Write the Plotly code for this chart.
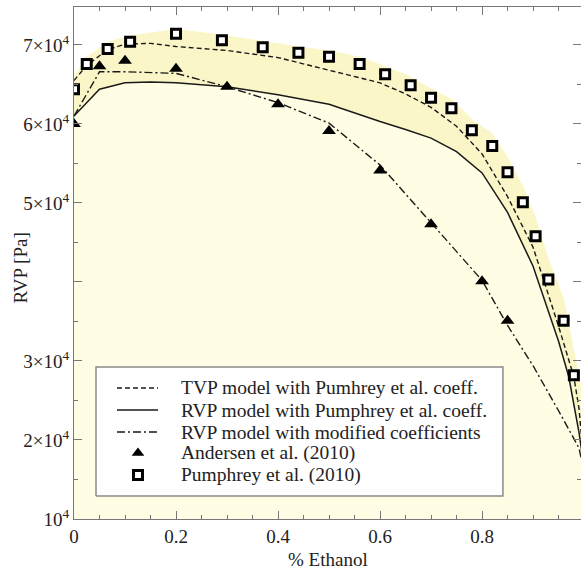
import plotly.graph_objects as go

# --- data ---
pumphrey_x = [0, 0.025, 0.066, 0.11, 0.2, 0.29, 0.37, 0.44, 0.5, 0.56, 0.61, 0.66,
              0.70, 0.74, 0.78, 0.82, 0.85, 0.88, 0.905, 0.93, 0.96, 0.98]
pumphrey_y = [6.44e4, 6.76e4, 6.95e4, 7.04e4, 7.14e4, 7.06e4, 6.97e4, 6.90e4, 6.85e4,
              6.76e4, 6.63e4, 6.49e4, 6.33e4, 6.20e4, 5.92e4, 5.72e4, 5.39e4, 5.01e4,
              4.58e4, 4.03e4, 3.51e4, 2.82e4]

andersen_x = [0, 0.05, 0.1, 0.2, 0.3, 0.4, 0.5, 0.6, 0.7, 0.8, 0.85]
andersen_y = [6.0e4, 6.73e4, 6.80e4, 6.70e4, 6.47e4, 6.25e4, 5.91e4, 5.41e4, 4.73e4,
              4.01e4, 3.51e4]

tvp_x = [0, 0.025, 0.066, 0.1, 0.15, 0.2, 0.3, 0.4, 0.5, 0.6, 0.65, 0.7, 0.75, 0.8,
         0.85, 0.9, 0.95, 0.98, 0.99, 1.0]
tvp_y = [6.55e4, 6.74e4, 6.94e4, 7.01e4, 7.02e4, 6.98e4, 6.93e4, 6.84e4, 6.68e4,
         6.52e4, 6.38e4, 6.21e4, 5.97e4, 5.62e4, 5.08e4, 4.44e4, 3.44e4, 2.80e4,
         2.40e4, 1.70e4]

rvp_x = [0, 0.05, 0.1, 0.15, 0.2, 0.3, 0.4, 0.5, 0.6, 0.65, 0.7, 0.75, 0.8, 0.85,
         0.9, 0.95, 0.97, 0.99, 1.0]
rvp_y = [6.10e4, 6.44e4, 6.52e4, 6.53e4, 6.52e4, 6.47e4, 6.37e4, 6.25e4, 6.03e4,
         5.93e4, 5.82e4, 5.65e4, 5.38e4, 4.88e4, 4.20e4, 3.25e4, 2.80e4, 2.10e4, 1.65e4]

mod_x = [0, 0.05, 0.1, 0.2, 0.3, 0.4, 0.5, 0.6, 0.7, 0.8, 0.85, 0.9, 0.95, 0.99, 1.0]
mod_y = [6.10e4, 6.66e4, 6.66e4, 6.64e4, 6.47e4, 6.27e4, 6.01e4, 5.48e4, 4.75e4,
         4.02e4, 3.45e4, 2.94e4, 2.37e4, 1.90e4, 1.60e4]

# shaded envelope (upper boundary of the yellow region)
shade_x = pumphrey_x + [0.994, 1.0]
shade_y = [6.60e4, 6.85e4, 7.04e4, 7.12e4, 7.20e4, 7.13e4, 7.05e4, 6.98e4, 6.93e4,
           6.85e4, 6.73e4, 6.60e4, 6.45e4, 6.32e4, 6.06e4, 5.88e4, 5.58e4, 5.22e4,
           4.82e4, 4.30e4, 3.80e4, 3.15e4, 2.7e4, 1.7e4]

y_tickvals = [1e4, 2e4, 3e4, 4e4, 5e4, 6e4, 7e4]
y_ticktext = ["10<sup>4</sup>", "2×10<sup>4</sup>", "3×10<sup>4</sup>", "",
              "5×10<sup>4</sup>", "6×10<sup>4</sup>", "7×10<sup>4</sup>"]
x_tickvals = [0, 0.2, 0.4, 0.6, 0.8]
x_ticktext = ["0", "0.2", "0.4", "0.6", "0.8"]

legend_labels = ["TVP model with Pumhrey et al. coeff.",
                 "RVP model with Pumphrey et al. coeff.",
                 "RVP model with modified coefficients",
                 "Andersen et al. (2010)",
                 "Pumphrey et al. (2010)"]
x_title = "% Ethanol"
y_title = "RVP [Pa]"

FONT = "Liberation Serif"
LC = "#1a1a1a"
TXT = "#222"

DASH_TVP = "5px,3px"
DASH_MOD = "8px,3px,2px,3px"

fig = go.Figure()

# base pale fill under the envelope
fig.add_trace(go.Scatter(
    x=[0] + shade_x + [1.0], y=[1e4] + shade_y + [1e4],
    fill="toself", fillcolor="#FFFDE3", line=dict(width=0),
    mode="lines", showlegend=False, hoverinfo="skip"))
# stronger band between solid RVP curve and envelope
fig.add_trace(go.Scatter(
    x=shade_x + rvp_x[::-1], y=shade_y + rvp_y[::-1],
    fill="toself", fillcolor="#FAF6C8", line=dict(width=0),
    mode="lines", showlegend=False, hoverinfo="skip"))

fig.add_trace(go.Scatter(x=tvp_x, y=tvp_y, mode="lines", showlegend=False,
                         line=dict(color=LC, width=1.4, dash=DASH_TVP)))
fig.add_trace(go.Scatter(x=rvp_x, y=rvp_y, mode="lines", showlegend=False,
                         line=dict(color=LC, width=1.5)))
fig.add_trace(go.Scatter(x=mod_x, y=mod_y, mode="lines", showlegend=False,
                         line=dict(color=LC, width=1.4, dash=DASH_MOD)))
tri_marker = dict(symbol="triangle-up", size=12, color="black")
fig.add_trace(go.Scatter(x=andersen_x, y=andersen_y, mode="markers", showlegend=False,
                         marker=tri_marker))
sq_marker = dict(symbol="square", size=9, color="white", line=dict(color="black", width=3))
fig.add_trace(go.Scatter(x=pumphrey_x, y=pumphrey_y, mode="markers", showlegend=False,
                         marker=sq_marker))

# ---- hand-built legend on an overlay axis in plot-fraction units ----
box_x0, box_x1, box_y0, box_y1 = 0.0434, 0.846, 0.0449, 0.297
samp_x0, samp_x1, samp_xm, text_x = 0.0848, 0.1657, 0.1262, 0.2071
item_y = [0.2559, 0.2129, 0.1699, 0.1289, 0.0859]

fig.add_trace(go.Scatter(
    x=[box_x0, box_x1, box_x1, box_x0, box_x0], y=[box_y0, box_y0, box_y1, box_y1, box_y0],
    xaxis="x2", yaxis="y2", mode="lines", fill="toself", fillcolor="white",
    line=dict(color="#8a8a8a", width=1.5), showlegend=False, hoverinfo="skip"))
for yy, dash, w in [(item_y[0], DASH_TVP, 1.4), (item_y[1], "solid", 1.5),
                    (item_y[2], DASH_MOD, 1.4)]:
    fig.add_trace(go.Scatter(x=[samp_x0, samp_x1], y=[yy, yy], xaxis="x2", yaxis="y2",
                             mode="lines", line=dict(color=LC, width=w, dash=dash),
                             showlegend=False, hoverinfo="skip"))
fig.add_trace(go.Scatter(x=[samp_xm], y=[item_y[3]], xaxis="x2", yaxis="y2", mode="markers",
                         marker=dict(symbol="triangle-up", size=11, color="black"),
                         showlegend=False, hoverinfo="skip"))
fig.add_trace(go.Scatter(x=[samp_xm], y=[item_y[4]], xaxis="x2", yaxis="y2", mode="markers",
                         marker=sq_marker, showlegend=False, hoverinfo="skip"))
for yy, lab in zip(item_y, legend_labels):
    fig.add_annotation(x=text_x, y=yy, xref="x2", yref="y2", text=lab, showarrow=False,
                       xanchor="left", yanchor="middle",
                       font=dict(family=FONT, size=19.5, color=TXT))

# axis titles placed as annotations for exact positioning
fig.add_annotation(x=0.5, y=-0.079, xref="paper", yref="paper", text=x_title,
                   showarrow=False, xanchor="center", yanchor="middle",
                   font=dict(family=FONT, size=19, color=TXT))
fig.add_annotation(x=-0.106, y=0.49, xref="paper", yref="paper", text=y_title,
                   showarrow=False, xanchor="center", yanchor="middle", textangle=-90,
                   font=dict(family=FONT, size=19, color=TXT))

axis_common = dict(
    showline=True, linecolor="#777", linewidth=1, mirror="ticks",
    ticks="inside", ticklen=8, tickcolor="#777", tickwidth=1,
    showgrid=False, zeroline=False,
    tickfont=dict(family=FONT, size=19, color=TXT),
)

xaxis = dict(
    range=[0, 0.994], tickmode="array", tickvals=x_tickvals, ticktext=x_ticktext,
    minor=dict(dtick=0.05, tick0=0, ticks="inside", ticklen=4, tickcolor="#777"),
    **axis_common)
yaxis = dict(
    range=[1e4, 7.48e4], tickmode="array", tickvals=y_tickvals, ticktext=y_ticktext,
    minor=dict(dtick=5000, tick0=0, ticks="inside", ticklen=4, tickcolor="#777"),
    **axis_common)

fig.update_layout(
    width=581, height=572,
    margin=dict(l=74, r=0, t=7, b=53),
    paper_bgcolor="white", plot_bgcolor="white",
    font=dict(family=FONT, size=19, color=TXT),
    xaxis=xaxis, yaxis=yaxis,
    xaxis2=dict(overlaying="x", range=[0, 1], visible=False, anchor="y2"),
    yaxis2=dict(overlaying="y", range=[0, 1], visible=False, anchor="x2"),
    showlegend=False,
)

fig.write_html("out.html")
